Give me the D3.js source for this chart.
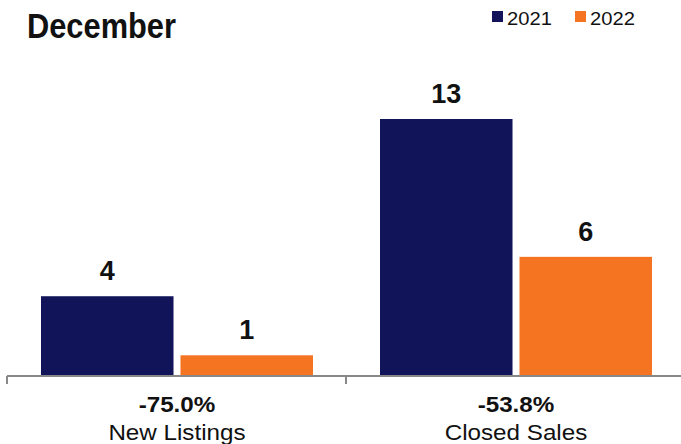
<!DOCTYPE html>
<html><head><meta charset="utf-8">
<script src="https://cdn.jsdelivr.net/npm/d3@7"></script>
<style>body{margin:0;background:#fff}svg{display:block}</style>
</head><body>
<script>
const categories = ["New Listings", "Closed Sales"];
const changes = ["-75.0%", "-53.8%"];
const seriesNames = ["2021", "2022"];
const values2021 = [4, 13];
const values2022 = [1, 6];
const colors = ["#12145a", "#f47421"];

const W = 681, H = 444;
const svg = d3.select("body").append("svg").attr("width", W).attr("height", H);
const font = "'Liberation Sans', Arial, sans-serif";

function stretch(sel, f) {
  sel.each(function() {
    const w = this.getComputedTextLength();
    d3.select(this).attr("textLength", w * f).attr("lengthAdjust", "spacingAndGlyphs");
  });
  return sel;
}

const x0 = d3.scaleBand().domain(categories).range([7, 685]).paddingInner(0).paddingOuter(0);
const x1 = d3.scaleBand().domain(seriesNames).range([34, 306]).paddingInner(0.05);
const y = d3.scaleLinear().domain([0, 13]).range([375, 119]);

const data = categories.map((c, i) => ({cat: c, vals: [values2021[i], values2022[i]]}));

const g = svg.append("g");
data.forEach((d, i) => {
  d.vals.forEach((v, j) => {
    const s = seriesNames[j];
    g.append("rect")
      .attr("x", x0(d.cat) + x1(s))
      .attr("y", y(v))
      .attr("width", x1.bandwidth())
      .attr("height", y(0) - y(v))
      .attr("fill", colors[j]);
    g.append("text")
      .attr("x", x0(d.cat) + x1(s) + x1.bandwidth() / 2)
      .attr("y", y(v) - 16)
      .attr("text-anchor", "middle")
      .attr("font-family", font).attr("font-weight", "bold").attr("font-size", 27)
      .attr("fill", "#111")
      .text(v);
  });
});

// axis
const axis = svg.append("g");
axis.append("line").attr("x1", 7).attr("x2", W).attr("y1", 376).attr("y2", 376)
  .attr("stroke", "#888").attr("stroke-width", 2);
[x0.range()[0], x0(categories[1])].forEach(t => {
  axis.append("line").attr("x1", t).attr("x2", t).attr("y1", 376).attr("y2", 384)
    .attr("stroke", "#888").attr("stroke-width", 2);
});

categories.forEach((c, i) => {
  const cx = x0(c) + (x1.range()[0] + x1.range()[1]) / 2;
  stretch(svg.append("text").attr("x", cx).attr("y", 412).attr("text-anchor", "middle")
    .attr("font-family", font).attr("font-weight", "bold").attr("font-size", 22)
    .attr("fill", "#111").text(changes[i]), 1.1);
  stretch(svg.append("text").attr("x", cx).attr("y", 440).attr("text-anchor", "middle")
    .attr("font-family", font).attr("font-size", 22)
    .attr("fill", "#111").text(c), 1.1);
});

// title
stretch(svg.append("text").attr("x", 27).attr("y", 38)
  .attr("font-family", font)
  .attr("font-weight", "bold").attr("font-size", 35).attr("fill", "#111")
  .text("December"), 0.88);

// legend
const lx = [492, 575];
seriesNames.forEach((s, i) => {
  svg.append("rect").attr("x", lx[i]).attr("y", 11).attr("width", 11).attr("height", 11).attr("fill", colors[i]);
  stretch(svg.append("text").attr("x", lx[i] + 15).attr("y", 25)
    .attr("font-family", font).attr("font-size", 18).attr("fill", "#111").text(s), 1.12);
});
</script>
</body></html>
